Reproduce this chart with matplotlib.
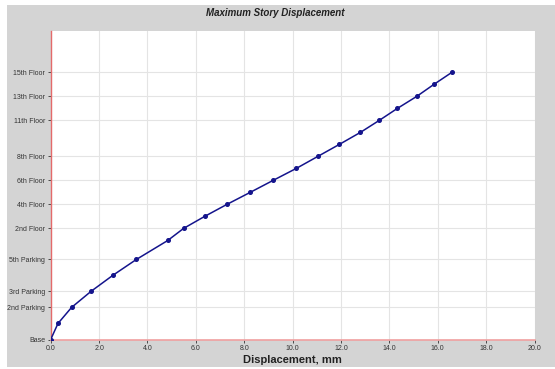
import matplotlib.pyplot as plt
from matplotlib.patches import Rectangle
import numpy as np

plt.rcParams['font.family'] = ['Liberation Sans', 'DejaVu Sans']

# story elevations (m) and displacements (mm)
stories = ['Base', '1st Parking', '2nd Parking', '3rd Parking', '4th Parking', '5th Parking',
           '1st Floor', '2nd Floor', '3rd Floor', '4th Floor', '5th Floor', '6th Floor',
           '7th Floor', '8th Floor', '9th Floor', '10th Floor', '11th Floor', '12th Floor',
           '13th Floor', '14th Floor', '15th Floor']
elev = [0, 4, 8, 12, 16, 20, 24.75, 27.75, 30.75, 33.75, 36.75, 39.75,
        42.75, 45.75, 48.75, 51.75, 54.75, 57.75, 60.75, 63.75, 66.75]
disp = [0.0, 0.30, 0.86, 1.66, 2.56, 3.54, 4.84, 5.49, 6.36, 7.28, 8.24, 9.19,
        10.15, 11.04, 11.93, 12.80, 13.58, 14.33, 15.13, 15.84, 16.58]

# labelled stories on the y axis
shown = ['Base', '2nd Parking', '3rd Parking', '5th Parking', '2nd Floor', '4th Floor',
         '6th Floor', '8th Floor', '11th Floor', '13th Floor', '15th Floor']
xticks = np.arange(0, 21, 2)

fig = plt.figure(figsize=(5.55, 3.69), dpi=100)
fig.patch.set_facecolor('white')
fig.patches.append(Rectangle((7/555, 2/369), 1 - 7/555, 1 - 7/369, transform=fig.transFigure,
                             facecolor='#d4d4d4', edgecolor='none', zorder=-10))

ax = fig.add_axes([50.7/555, 1 - 339.5/369, (534.5 - 50.7)/555, (339.5 - 31)/369])
ax.set_facecolor('white')
ax.plot(disp, elev, color='#14148c', lw=1.1, marker='o', ms=2.6, zorder=3)

ax.set_xlim(0, 20)
ax.set_ylim(0, 77.1)
ax.set_xticks(xticks)
ax.set_xticklabels([f'{v:.1f}' for v in xticks], fontsize=5, color='#333333')
yt = [elev[stories.index(s)] for s in shown]
ax.set_yticks(yt)
ax.set_yticklabels(shown, fontsize=5, color='#333333')
ax.tick_params(length=2, width=0.6, pad=2, color='#333333')
ax.grid(True, color='#e4e4e4', lw=0.8)
ax.set_axisbelow(True)

for side in ['top', 'right']:
    ax.spines[side].set_visible(False)
ax.spines['left'].set_color('#e46a6a')
ax.spines['bottom'].set_color('#f0a0a0')
ax.spines['left'].set_linewidth(1.0)
ax.spines['bottom'].set_linewidth(1.2)

fig.text(275/555, 1 - 13/369, 'Maximum Story Displacement', ha='center', va='center',
         fontsize=7, fontweight='bold', fontstyle='italic', color='#222222')
fig.text(292/555, 1 - 360/369, 'Displacement, mm', ha='center', va='center',
         fontsize=8, fontweight='bold', color='#222222')

fig.savefig('out.png', dpi=100, facecolor=fig.get_facecolor())
